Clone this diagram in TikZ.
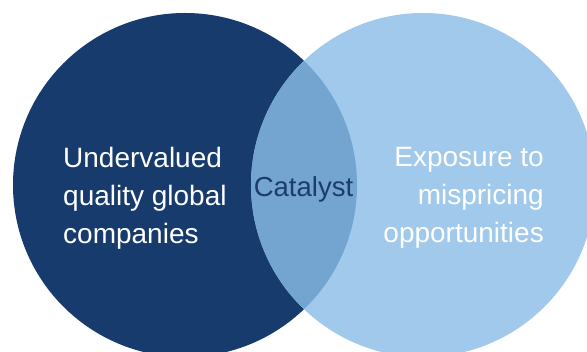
\documentclass[tikz,border=0pt]{standalone}
\usepackage{fontspec}
\setmainfont{Liberation Sans}
\usetikzlibrary{positioning}
\definecolor{navy}{HTML}{163B6C}
\definecolor{skyblue}{HTML}{A0C9EB}
\definecolor{midblue}{HTML}{74A5D0}
\definecolor{catalyst}{HTML}{1A3D6D}
\begin{document}
\begin{tikzpicture}[x=1pt,y=1pt,
  side text/.style={text=white,inner sep=0pt,font=\fontsize{28}{38}\selectfont},
  mid text/.style={text=catalyst,inner sep=0pt,font=\fontsize{27.5}{30}\selectfont}]
\clip (0,0) rectangle (587,352);
\fill[navy] (185,167) circle (172);
\fill[skyblue] (423,167) circle (172);
\begin{scope}
\clip (185,167) circle (172);
\fill[midblue] (423,167) circle (172);
\end{scope}
\node[side text,align=left,anchor=west] (quality) at (63,154) {Undervalued\\quality global\\companies};
\node[side text,align=right,anchor=east] (mispricing) at (544,154) {Exposure to\\mispricing\\opportunities};
\node[mid text,anchor=base] (catalyst) at (303.5,155) {Catalyst};
\end{tikzpicture}
\end{document}
